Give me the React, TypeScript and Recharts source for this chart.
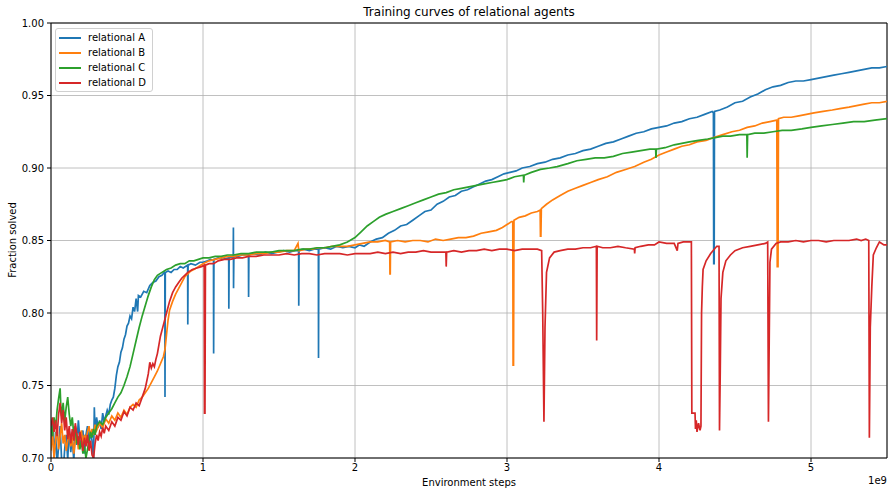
import React from 'react';
import { LineChart, Line, XAxis, YAxis, CartesianGrid, ReferenceLine } from 'recharts';

// x in units of 1e9 environment steps, y = fraction solved
const xTicks = [0, 1, 2, 3, 4, 5];
const yTicks = [0.7, 0.75, 0.8, 0.85, 0.9, 0.95, 1.0];
const seriesNames = ['relational A', 'relational B', 'relational C', 'relational D'];
const seriesColors = ['#1f77b4', '#ff7f0e', '#2ca02c', '#d62728'];

const relationalA: [number, number][] = [
  [0, 0.712], [0.01, 0.725], [0.02, 0.7], [0.03, 0.718], [0.04, 0.695], [0.05, 0.708], [0.06, 0.722], [0.07, 0.698],
  [0.08, 0.69], [0.09, 0.706], [0.1, 0.716], [0.11, 0.699], [0.12, 0.72], [0.13, 0.704], [0.14, 0.714], [0.15, 0.698],
  [0.16, 0.721], [0.17, 0.709], [0.18, 0.726], [0.19, 0.713], [0.2, 0.708], [0.21, 0.719], [0.22, 0.703], [0.23, 0.716],
  [0.24, 0.722], [0.25, 0.709], [0.26, 0.718], [0.27, 0.712], [0.28, 0.698], [0.285, 0.735], [0.29, 0.718], [0.3, 0.728],
  [0.31, 0.721], [0.32, 0.726], [0.33, 0.72], [0.34, 0.731], [0.35, 0.725], [0.36, 0.729], [0.37, 0.733], [0.38, 0.73],
  [0.39, 0.737], [0.4, 0.74], [0.41, 0.742], [0.42, 0.748], [0.43, 0.757], [0.44, 0.763], [0.45, 0.766], [0.46, 0.773],
  [0.47, 0.776], [0.48, 0.782], [0.49, 0.785], [0.5, 0.791], [0.51, 0.793], [0.52, 0.798], [0.53, 0.796], [0.54, 0.804],
  [0.55, 0.801], [0.56, 0.81], [0.57, 0.801], [0.575, 0.812], [0.59, 0.811], [0.61, 0.815], [0.63, 0.814], [0.65, 0.819],
  [0.67, 0.821], [0.69, 0.822], [0.71, 0.825], [0.73, 0.826], [0.745, 0.828], [0.749, 0.827], [0.75, 0.742], [0.752, 0.828],
  [0.77, 0.829], [0.79, 0.828], [0.81, 0.83], [0.83, 0.83], [0.85, 0.832], [0.87, 0.831], [0.899, 0.833], [0.9, 0.792],
  [0.902, 0.833], [0.92, 0.834], [0.95, 0.833], [0.98, 0.835], [1.0, 0.835], [1.03, 0.836], [1.05, 0.837], [1.069, 0.836],
  [1.07, 0.772], [1.072, 0.837], [1.1, 0.838], [1.13, 0.837], [1.169, 0.838], [1.17, 0.803], [1.172, 0.838], [1.199, 0.839],
  [1.2, 0.859], [1.201, 0.817], [1.203, 0.839], [1.23, 0.839], [1.26, 0.84], [1.299, 0.84], [1.3, 0.811], [1.302, 0.84],
  [1.33, 0.841], [1.37, 0.84], [1.41, 0.842], [1.45, 0.841], [1.49, 0.842], [1.53, 0.843], [1.57, 0.842], [1.6, 0.843],
  [1.629, 0.843], [1.63, 0.805], [1.632, 0.843], [1.66, 0.844], [1.7, 0.843], [1.73, 0.844], [1.759, 0.844], [1.76, 0.769],
  [1.762, 0.844], [1.8, 0.845], [1.84, 0.844], [1.88, 0.846], [1.92, 0.845], [1.96, 0.846], [2.0, 0.845], [2.03, 0.847],
  [2.06, 0.846], [2.1, 0.849], [2.14, 0.851], [2.18, 0.852], [2.22, 0.855], [2.26, 0.857], [2.3, 0.86], [2.34, 0.861],
  [2.38, 0.864], [2.42, 0.867], [2.46, 0.87], [2.5, 0.871], [2.54, 0.875], [2.58, 0.877], [2.62, 0.88], [2.66, 0.881],
  [2.7, 0.884], [2.74, 0.885], [2.78, 0.887], [2.82, 0.889], [2.86, 0.891], [2.9, 0.892], [2.94, 0.894], [2.98, 0.896],
  [3.02, 0.897], [3.06, 0.898], [3.1, 0.9], [3.15, 0.901], [3.2, 0.903], [3.25, 0.904], [3.3, 0.906], [3.35, 0.907],
  [3.4, 0.909], [3.45, 0.91], [3.5, 0.912], [3.55, 0.913], [3.6, 0.915], [3.65, 0.917], [3.7, 0.918], [3.75, 0.92],
  [3.8, 0.922], [3.85, 0.924], [3.9, 0.925], [3.95, 0.927], [4.0, 0.928], [4.05, 0.929], [4.1, 0.931], [4.15, 0.932],
  [4.2, 0.934], [4.25, 0.935], [4.3, 0.937], [4.35, 0.939], [4.358, 0.938], [4.36, 0.834], [4.363, 0.834], [4.365, 0.939],
  [4.4, 0.94], [4.45, 0.942], [4.5, 0.945], [4.55, 0.946], [4.6, 0.949], [4.65, 0.951], [4.7, 0.954], [4.75, 0.956],
  [4.8, 0.957], [4.85, 0.959], [4.9, 0.96], [4.95, 0.96], [5.0, 0.961], [5.05, 0.962], [5.1, 0.963], [5.15, 0.964],
  [5.2, 0.965], [5.25, 0.966], [5.3, 0.967], [5.35, 0.968], [5.4, 0.969], [5.45, 0.969], [5.5, 0.97],
];

const relationalB: [number, number][] = [
  [0, 0.705], [0.01, 0.718], [0.02, 0.7], [0.03, 0.712], [0.04, 0.722], [0.05, 0.706], [0.06, 0.715], [0.07, 0.724],
  [0.08, 0.71], [0.09, 0.716], [0.1, 0.705], [0.11, 0.712], [0.12, 0.718], [0.13, 0.708], [0.14, 0.714], [0.15, 0.703],
  [0.16, 0.712], [0.17, 0.717], [0.18, 0.706], [0.19, 0.714], [0.2, 0.719], [0.21, 0.71], [0.22, 0.716], [0.23, 0.712],
  [0.24, 0.718], [0.25, 0.722], [0.26, 0.715], [0.27, 0.72], [0.28, 0.716], [0.29, 0.723], [0.3, 0.719], [0.32, 0.724],
  [0.34, 0.721], [0.36, 0.727], [0.38, 0.724], [0.4, 0.729], [0.42, 0.726], [0.44, 0.731], [0.46, 0.728], [0.48, 0.733],
  [0.5, 0.73], [0.52, 0.735], [0.54, 0.737], [0.56, 0.735], [0.58, 0.74], [0.6, 0.742], [0.62, 0.745], [0.64, 0.748],
  [0.66, 0.752], [0.68, 0.756], [0.7, 0.76], [0.72, 0.765], [0.74, 0.77], [0.75, 0.775], [0.76, 0.785], [0.77, 0.795],
  [0.78, 0.802], [0.8, 0.808], [0.82, 0.813], [0.84, 0.817], [0.86, 0.821], [0.88, 0.825], [0.9, 0.827], [0.92, 0.829],
  [0.94, 0.83], [0.97, 0.832], [1.0, 0.834], [1.04, 0.836], [1.08, 0.837], [1.12, 0.838], [1.16, 0.839], [1.2, 0.839],
  [1.25, 0.84], [1.3, 0.84], [1.35, 0.841], [1.4, 0.841], [1.45, 0.842], [1.5, 0.842], [1.55, 0.843], [1.6, 0.843],
  [1.625, 0.848], [1.63, 0.843], [1.68, 0.844], [1.72, 0.844], [1.76, 0.845], [1.8, 0.845], [1.85, 0.846], [1.9, 0.846],
  [1.95, 0.846], [2.0, 0.847], [2.05, 0.848], [2.1, 0.849], [2.15, 0.849], [2.2, 0.85], [2.228, 0.849], [2.23, 0.827],
  [2.232, 0.827], [2.234, 0.849], [2.28, 0.85], [2.33, 0.849], [2.38, 0.85], [2.43, 0.85], [2.48, 0.849], [2.53, 0.851],
  [2.58, 0.85], [2.63, 0.851], [2.68, 0.852], [2.73, 0.852], [2.78, 0.853], [2.83, 0.855], [2.88, 0.856], [2.93, 0.857],
  [2.97, 0.859], [3.0, 0.861], [3.03, 0.863], [3.038, 0.863], [3.04, 0.764], [3.043, 0.764], [3.046, 0.864], [3.08, 0.866],
  [3.12, 0.867], [3.16, 0.869], [3.2, 0.87], [3.218, 0.871], [3.22, 0.853], [3.223, 0.853], [3.226, 0.872], [3.26, 0.875],
  [3.3, 0.878], [3.35, 0.881], [3.4, 0.884], [3.45, 0.886], [3.5, 0.888], [3.55, 0.89], [3.6, 0.892], [3.66, 0.894],
  [3.72, 0.897], [3.78, 0.899], [3.84, 0.901], [3.9, 0.904], [3.95, 0.906], [4.0, 0.909], [4.05, 0.911], [4.1, 0.913],
  [4.15, 0.915], [4.2, 0.916], [4.25, 0.918], [4.31, 0.919], [4.36, 0.921], [4.42, 0.923], [4.48, 0.925], [4.53, 0.926],
  [4.58, 0.928], [4.63, 0.929], [4.68, 0.931], [4.73, 0.932], [4.775, 0.933], [4.778, 0.832], [4.783, 0.832], [4.786, 0.934],
  [4.82, 0.935], [4.87, 0.935], [4.92, 0.936], [4.97, 0.937], [5.02, 0.938], [5.08, 0.939], [5.14, 0.94], [5.19, 0.941],
  [5.25, 0.942], [5.3, 0.943], [5.35, 0.944], [5.4, 0.945], [5.45, 0.945], [5.5, 0.946],
];

const relationalC: [number, number][] = [
  [0, 0.722], [0.01, 0.715], [0.02, 0.728], [0.03, 0.72], [0.04, 0.733], [0.05, 0.741], [0.06, 0.748], [0.065, 0.735],
  [0.07, 0.729], [0.08, 0.738], [0.09, 0.725], [0.1, 0.735], [0.11, 0.742], [0.12, 0.73], [0.13, 0.722], [0.14, 0.728],
  [0.15, 0.716], [0.16, 0.722], [0.17, 0.71], [0.18, 0.715], [0.19, 0.706], [0.2, 0.712], [0.21, 0.703], [0.22, 0.708],
  [0.23, 0.7], [0.24, 0.706], [0.25, 0.712], [0.26, 0.718], [0.27, 0.714], [0.28, 0.72], [0.29, 0.716], [0.3, 0.722],
  [0.32, 0.725], [0.34, 0.723], [0.36, 0.728], [0.38, 0.731], [0.4, 0.734], [0.42, 0.738], [0.44, 0.742], [0.46, 0.745],
  [0.48, 0.75], [0.5, 0.756], [0.52, 0.763], [0.54, 0.772], [0.56, 0.781], [0.58, 0.79], [0.6, 0.798], [0.62, 0.805],
  [0.64, 0.812], [0.66, 0.818], [0.68, 0.823], [0.7, 0.826], [0.73, 0.828], [0.76, 0.83], [0.79, 0.831], [0.82, 0.833],
  [0.85, 0.834], [0.88, 0.834], [0.91, 0.836], [0.94, 0.836], [0.97, 0.837], [1.0, 0.838], [1.04, 0.838], [1.08, 0.839],
  [1.12, 0.839], [1.16, 0.84], [1.2, 0.84], [1.25, 0.841], [1.3, 0.841], [1.35, 0.842], [1.4, 0.842], [1.45, 0.842],
  [1.5, 0.843], [1.55, 0.843], [1.6, 0.843], [1.65, 0.844], [1.7, 0.844], [1.75, 0.845], [1.8, 0.845], [1.85, 0.846],
  [1.9, 0.847], [1.95, 0.849], [2.0, 0.852], [2.04, 0.856], [2.08, 0.86], [2.12, 0.863], [2.16, 0.866], [2.2, 0.868],
  [2.25, 0.87], [2.3, 0.872], [2.35, 0.874], [2.4, 0.876], [2.45, 0.878], [2.5, 0.88], [2.55, 0.882], [2.6, 0.883],
  [2.65, 0.885], [2.7, 0.886], [2.75, 0.887], [2.8, 0.888], [2.85, 0.889], [2.9, 0.89], [2.95, 0.891], [3.0, 0.892],
  [3.05, 0.894], [3.108, 0.895], [3.11, 0.89], [3.113, 0.895], [3.16, 0.897], [3.22, 0.899], [3.28, 0.9], [3.33, 0.901],
  [3.4, 0.903], [3.46, 0.905], [3.52, 0.906], [3.58, 0.907], [3.64, 0.907], [3.7, 0.908], [3.76, 0.91], [3.82, 0.911],
  [3.88, 0.912], [3.94, 0.913], [3.978, 0.913], [3.98, 0.907], [3.983, 0.913], [4.04, 0.914], [4.1, 0.916], [4.15, 0.917],
  [4.2, 0.918], [4.26, 0.919], [4.32, 0.92], [4.37, 0.921], [4.42, 0.922], [4.47, 0.922], [4.53, 0.923], [4.578, 0.923],
  [4.58, 0.907], [4.583, 0.923], [4.63, 0.924], [4.69, 0.924], [4.75, 0.925], [4.81, 0.926], [4.87, 0.926], [4.94, 0.927],
  [5.0, 0.928], [5.07, 0.929], [5.14, 0.93], [5.21, 0.931], [5.28, 0.932], [5.35, 0.932], [5.42, 0.933], [5.5, 0.934],
];

const relationalD: [number, number][] = [
  [0, 0.722], [0.01, 0.728], [0.02, 0.718], [0.03, 0.726], [0.04, 0.715], [0.05, 0.73], [0.06, 0.738], [0.07, 0.724],
  [0.08, 0.733], [0.09, 0.719], [0.1, 0.728], [0.11, 0.713], [0.12, 0.722], [0.13, 0.71], [0.14, 0.72], [0.15, 0.712],
  [0.16, 0.724], [0.17, 0.716], [0.18, 0.709], [0.19, 0.718], [0.2, 0.712], [0.21, 0.705], [0.22, 0.714], [0.23, 0.708],
  [0.24, 0.716], [0.25, 0.705], [0.26, 0.712], [0.27, 0.702], [0.28, 0.7], [0.29, 0.71], [0.3, 0.716], [0.31, 0.712],
  [0.32, 0.718], [0.33, 0.715], [0.34, 0.721], [0.35, 0.717], [0.36, 0.722], [0.38, 0.719], [0.4, 0.725], [0.42, 0.722],
  [0.44, 0.728], [0.46, 0.726], [0.48, 0.732], [0.5, 0.729], [0.52, 0.735], [0.54, 0.733], [0.56, 0.738], [0.58, 0.736],
  [0.6, 0.742], [0.62, 0.748], [0.64, 0.758], [0.65, 0.766], [0.66, 0.762], [0.67, 0.765], [0.68, 0.763], [0.69, 0.768],
  [0.7, 0.772], [0.71, 0.778], [0.72, 0.784], [0.74, 0.792], [0.76, 0.8], [0.78, 0.808], [0.8, 0.814], [0.82, 0.818],
  [0.84, 0.821], [0.86, 0.824], [0.88, 0.826], [0.9, 0.828], [0.93, 0.83], [0.96, 0.831], [0.99, 0.832], [1.008, 0.833],
  [1.01, 0.731], [1.013, 0.731], [1.016, 0.833], [1.04, 0.834], [1.07, 0.834], [1.1, 0.836], [1.14, 0.837], [1.18, 0.837],
  [1.22, 0.838], [1.26, 0.838], [1.3, 0.839], [1.35, 0.839], [1.4, 0.84], [1.45, 0.84], [1.5, 0.84], [1.55, 0.841],
  [1.6, 0.84], [1.65, 0.841], [1.7, 0.841], [1.75, 0.84], [1.8, 0.841], [1.85, 0.841], [1.9, 0.841], [1.95, 0.84],
  [2.0, 0.841], [2.05, 0.841], [2.1, 0.841], [2.15, 0.842], [2.2, 0.841], [2.25, 0.842], [2.3, 0.841], [2.35, 0.842],
  [2.4, 0.842], [2.45, 0.843], [2.5, 0.842], [2.55, 0.842], [2.598, 0.842], [2.6, 0.832], [2.603, 0.842], [2.65, 0.843],
  [2.7, 0.842], [2.75, 0.843], [2.8, 0.843], [2.85, 0.844], [2.9, 0.843], [2.95, 0.844], [3.0, 0.844], [3.05, 0.843],
  [3.1, 0.844], [3.15, 0.844], [3.2, 0.844], [3.228, 0.843], [3.235, 0.8], [3.243, 0.725], [3.25, 0.79], [3.26, 0.828],
  [3.28, 0.838], [3.31, 0.842], [3.35, 0.843], [3.4, 0.844], [3.45, 0.844], [3.5, 0.845], [3.55, 0.845], [3.588, 0.846],
  [3.59, 0.781], [3.593, 0.846], [3.63, 0.845], [3.68, 0.845], [3.73, 0.846], [3.78, 0.845], [3.838, 0.844], [3.84, 0.841],
  [3.843, 0.845], [3.88, 0.846], [3.93, 0.847], [3.97, 0.847], [4.0, 0.849], [4.05, 0.848], [4.1, 0.848], [4.12, 0.843],
  [4.125, 0.848], [4.16, 0.849], [4.213, 0.849], [4.216, 0.731], [4.237, 0.731], [4.24, 0.72], [4.245, 0.726], [4.25, 0.718],
  [4.26, 0.724], [4.27, 0.719], [4.276, 0.722], [4.28, 0.8], [4.285, 0.818], [4.29, 0.83], [4.31, 0.836], [4.34, 0.841],
  [4.38, 0.846], [4.395, 0.846], [4.398, 0.719], [4.403, 0.76], [4.408, 0.81], [4.42, 0.828], [4.44, 0.836], [4.47, 0.84],
  [4.5, 0.843], [4.55, 0.845], [4.6, 0.846], [4.65, 0.847], [4.7, 0.848], [4.715, 0.849], [4.72, 0.725], [4.725, 0.78],
  [4.73, 0.835], [4.74, 0.844], [4.77, 0.848], [4.8, 0.849], [4.85, 0.849], [4.9, 0.85], [4.95, 0.849], [5.0, 0.85],
  [5.05, 0.85], [5.1, 0.849], [5.15, 0.85], [5.2, 0.85], [5.25, 0.85], [5.3, 0.851], [5.33, 0.85], [5.36, 0.851],
  [5.38, 0.85], [5.384, 0.714], [5.39, 0.79], [5.4, 0.818], [5.41, 0.84], [5.43, 0.845], [5.45, 0.849], [5.48, 0.847],
  [5.5, 0.847],
];

const seriesData = [relationalA, relationalB, relationalC, relationalD].map((pts) =>
  pts.map(([x, y]) => ({ x, y }))
);

const FONT = '"DejaVu Sans", sans-serif';

const LegendBox = () => (
  <div
    style={{
      position: 'absolute',
      left: 55,
      top: 28,
      background: 'rgba(255,255,255,0.8)',
      border: '1px solid #d0d0d0',
      borderRadius: 3,
      padding: '1px 6px 1px 3px',
      fontFamily: FONT,
      fontSize: 10,
      color: '#000',
      whiteSpace: 'nowrap',
    }}
  >
    {seriesNames.map((n, i) => (
      <div key={n} style={{ display: 'flex', alignItems: 'center', height: 15 }}>
        <div style={{ width: 22, height: 0, borderTop: `2px solid ${seriesColors[i]}`, marginRight: 7 }} />
        <span>{n}</span>
      </div>
    ))}
  </div>
);

export default function App() {
  return (
    <div style={{ position: 'absolute', left: 0, top: 0, width: 894, height: 496, background: '#fff', fontFamily: FONT }}>
      <LineChart width={894} height={496} margin={{ top: 23, right: 7, bottom: 0, left: 0 }}>
        <CartesianGrid stroke="#b0b0b0" strokeWidth={0.8} />
        <XAxis
          type="number"
          dataKey="x"
          domain={[0, 5.5]}
          ticks={xTicks}
          allowDataOverflow
          height={38}
          tickSize={4}
          tickMargin={2}
          stroke="#000"
          tick={{ fill: '#000', fontSize: 10, fontFamily: FONT }}
          tickFormatter={(v: number) => String(v)}
        />
        <YAxis
          type="number"
          domain={[0.7, 1.0]}
          ticks={yTicks}
          allowDataOverflow
          width={51}
          tickSize={4}
          tickMargin={3}
          stroke="#000"
          tick={{ fill: '#000', fontSize: 10, fontFamily: FONT }}
          tickFormatter={(v: number) => v.toFixed(2)}
        />
        <ReferenceLine y={1.0} stroke="#000" strokeWidth={1} />
        <ReferenceLine x={5.5} stroke="#000" strokeWidth={1} />
        {seriesData.map((d, i) => (
          <Line
            key={seriesNames[i]}
            name={seriesNames[i]}
            data={d}
            dataKey="y"
            type="linear"
            stroke={seriesColors[i]}
            strokeWidth={1.7}
            dot={false}
            activeDot={false}
            isAnimationActive={false}
          />
        ))}
      </LineChart>
      <LegendBox />
      <div style={{ position: 'absolute', left: 51, width: 836, top: 5, textAlign: 'center', fontSize: 12, color: '#000' }}>
        Training curves of relational agents
      </div>
      <div style={{ position: 'absolute', left: 51, width: 836, top: 477, textAlign: 'center', fontSize: 10, color: '#000' }}>
        Environment steps
      </div>
      <div style={{ position: 'absolute', right: 7, top: 475, fontSize: 10, color: '#000' }}>1e9</div>
      <div
        style={{
          position: 'absolute',
          left: 12,
          top: 240,
          fontSize: 10,
          color: '#000',
          whiteSpace: 'nowrap',
          transform: 'translate(-50%, -50%) rotate(-90deg)',
        }}
      >
        Fraction solved
      </div>
    </div>
  );
}
